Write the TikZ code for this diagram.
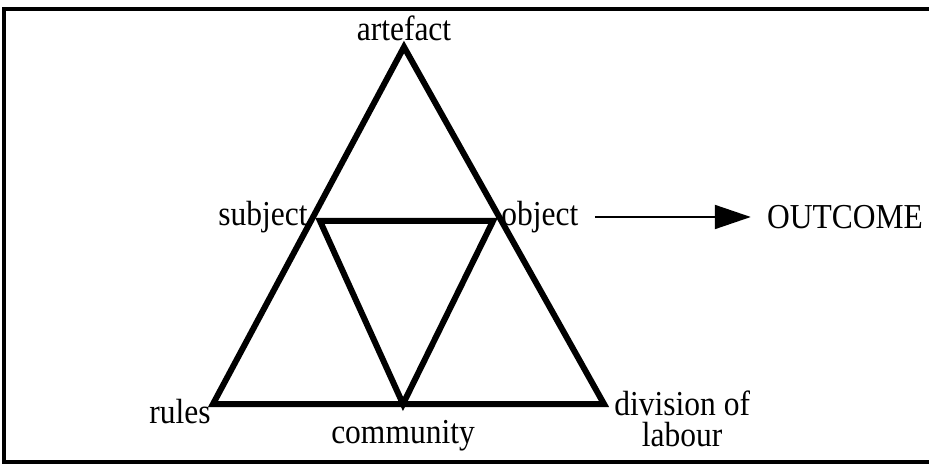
\documentclass[tikz,border=0pt]{standalone}
\usepackage{fontspec}
\setmainfont[FakeStretch=0.9]{Liberation Serif}
\usetikzlibrary{positioning,arrows.meta}

\begin{document}
\begin{tikzpicture}[x=0.5pt,y=-0.5pt,font=\fontsize{17.5pt}{15.5pt}\selectfont,
  edge/.style={line width=3pt,line join=miter},
  lbl/.style={inner sep=1pt,align=center}]
\useasboundingbox (0,0) rectangle (929,464);
% frame
\draw[line width=1.8pt] (929,9) -- (4,9) -- (4,462) -- (929,462);
% vertices
\coordinate (top) at (404,47);
\coordinate (subj) at (320,221);
\coordinate (obj) at (493,221);
\coordinate (bl) at (213,404);
\coordinate (bm) at (403,404);
\coordinate (br) at (604,404);
% triangles
\draw[edge] (top) -- (bl) -- (br) -- cycle;
\draw[edge] (subj) -- (obj) -- (bm) -- cycle;
% labels
\node[lbl,above=2pt of top] (artefact) {artefact};
\node[lbl,left=5pt of subj,yshift=2pt] (subject) {subject};
\node[lbl,right=3pt of obj,yshift=2pt] (object) {object};
\node[lbl,left=0pt of bl,yshift=-4pt] (rules) {rules};
\node[lbl,below=7pt of bm] (community) {community};
\node[lbl,below right=-8pt and 4pt of br] (division) {division of\\labour};
\node[lbl,right=92pt of object] (outcome) {OUTCOME};
\draw[line width=1pt,-{Triangle[length=18pt,width=12pt]}] ([xshift=7pt]object.east) -- ([xshift=-7pt]outcome.west);
\end{tikzpicture}
\end{document}
